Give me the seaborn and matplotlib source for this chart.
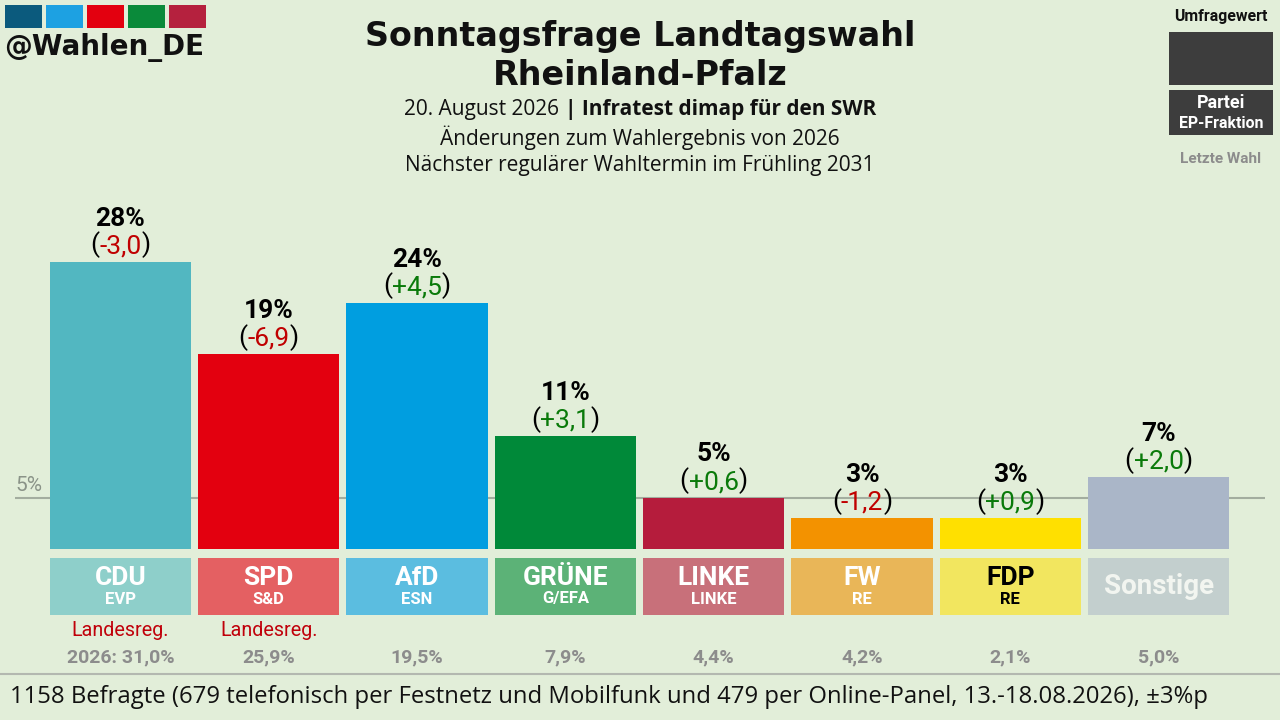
import matplotlib
matplotlib.use("Agg")
import matplotlib.pyplot as plt
import seaborn as sns
import pandas as pd
from matplotlib.patches import Rectangle

# ---------------- data ----------------
parties = ["CDU", "SPD", "AfD", "GRÜNE", "LINKE", "FW", "FDP", "Sonstige"]
fractions = ["EVP", "S&D", "ESN", "G/EFA", "LINKE", "RE", "RE", ""]
values = [28, 19, 24, 11, 5, 3, 3, 7]
changes = ["-3,0", "-6,9", "+4,5", "+3,1", "+0,6", "-1,2", "+0,9", "+2,0"]
last_vote = ["2026: 31,0%", "25,9%", "19,5%", "7,9%", "4,4%", "4,2%", "2,1%", "5,0%"]
government = ["Landesreg.", "Landesreg.", "", "", "", "", "", ""]
bar_colors = ["#52b7c1", "#e3000f", "#009ee0", "#008939", "#b51c3c", "#f39200", "#ffe000", "#aab6c8"]
box_colors = ["#8ecfca", "#e46062", "#5bbde0", "#5cb277", "#c8707a", "#e9b658", "#f2e65f", "#c3cfce"]
box_text_colors = ["white", "white", "white", "white", "white", "white", "black", "#f2f5f0"]
threshold = 5

title_l1 = "Sonntagsfrage Landtagswahl"
title_l2 = "Rheinland-Pfalz"
sub_date = "20. August 2026"
sub_inst = "| Infratest dimap für den SWR"
sub2 = "Änderungen zum Wahlergebnis von 2026"
sub3 = "Nächster regulärer Wahltermin im Frühling 2031"
footer = "1158 Befragte (679 telefonisch per Festnetz und Mobilfunk und 479 per Online-Panel, 13.-18.08.2026), ±3%p"
logo_colors = ["#0b5a7d", "#1da1e2", "#e3000f", "#0a8a3a", "#b5213e"]

BG = "#e2eed9"
W, H = 1280, 720

sns.set_theme(style="white")
plt.rcParams["font.family"] = ["Roboto", "DejaVu Sans"]
plt.rcParams["patch.linewidth"] = 0

fig = plt.figure(figsize=(12.8, 7.2), dpi=100, facecolor=BG)
ax = fig.add_axes([0, 0, 1, 1])
ax.set_facecolor(BG)

# pixel geometry -> data
X0, DX = 120.5, 148.3      # first bar centre, spacing (px)
Y0, DY = 549.0, 10.25      # baseline (px from top), px per percent

def xd(px):
    return (px - X0) / DX

def yd(py):
    return (Y0 - py) / DY

df = pd.DataFrame({"party": parties, "value": values})
sns.barplot(data=df, x="party", y="value", hue="party", palette=bar_colors,
            width=0.953, saturation=1, legend=False, ax=ax, zorder=3,
            linewidth=0, edgecolor="none")

ax.set_xlim(xd(0), xd(W))
ax.set_ylim(yd(H), yd(0))
ax.axis("off")

# threshold line
ax.hlines(threshold, xd(15), xd(1265), color="#a3ad9f", lw=1.5, zorder=1)
ax.text(xd(15), yd(491), f"{threshold}%", ha="left", va="baseline",
        fontsize=15, color="#8a9388", zorder=2)

# label boxes
xs = list(range(len(parties)))
box_top, box_bot = yd(558), yd(615)
ax.bar(xs, [box_top - box_bot] * len(xs), bottom=box_bot, width=0.953,
       color=box_colors, linewidth=0, edgecolor="none", zorder=3)

for i, (p, f) in enumerate(zip(parties, fractions)):
    if f:
        ax.text(i, yd(578), p, ha="center", va="center", fontsize=19,
                fontweight="bold", color=box_text_colors[i], zorder=4)
        ax.text(i, yd(599), f, ha="center", va="center", fontsize=12,
                fontweight="bold", color=box_text_colors[i], zorder=4)
    else:
        ax.text(i, yd(587), p, ha="center", va="center", fontsize=20,
                fontweight="bold", color=box_text_colors[i], zorder=4)

# value labels
for i, (v, c) in enumerate(zip(values, changes)):
    ax.text(i, v + 3.55, f"{v}%", ha="center", va="baseline", fontsize=19,
            fontweight="bold", color="black", zorder=4)
    col = "#c00000" if c.startswith("-") else "#0a7a0a"
    t = ax.text(i, v + 0.85, c, ha="center", va="baseline", fontsize=19,
                color=col, zorder=4)
    ax.annotate("(", xy=(0, 0), xycoords=t, ha="right", va="bottom",
                fontsize=19, color="black", zorder=4)
    ax.annotate(")", xy=(1, 0), xycoords=t, ha="left", va="bottom",
                fontsize=19, color="black", zorder=4)

# government + last election
for i, (g, lv) in enumerate(zip(government, last_vote)):
    if g:
        ax.text(i, yd(631), g, ha="center", va="center", fontsize=14.2,
                color="#c0000a")
    ax.text(i, yd(657), lv, ha="center", va="center", fontsize=14,
            fontweight="bold", color="#8c8c8c")

# footer line + text
ax.hlines(yd(674), xd(0), xd(W), color="#b3b8b0", lw=1.5)
fig.text(10 / W, 1 - 697 / H, footer, ha="left", va="center", fontsize=17.2,
         family=["Open Sans", "DejaVu Sans"], color="#111111")

# title block
fig.text(0.5, 1 - 46 / H, title_l1, ha="center", va="baseline", fontsize=24,
         fontweight="bold", family=["DejaVu Sans"], color="#111111")
fig.text(0.5, 1 - 85 / H, title_l2, ha="center", va="baseline", fontsize=24,
         fontweight="bold", family=["DejaVu Sans"], color="#111111")
SUBFS = 15
t1 = fig.text(0.5, 1 - 109 / H, sub_date + " ", ha="right", va="center",
              fontsize=SUBFS, family=["Open Sans", "DejaVu Sans"], color="#111111")
fig.canvas.draw()
r = fig.canvas.get_renderer()
w_date = t1.get_window_extent(r).width
t2 = fig.text(0.5, 1 - 109 / H, sub_inst, ha="left", va="center",
              fontsize=SUBFS, fontweight="bold", family=["Open Sans", "DejaVu Sans"],
              color="#111111")
w_inst = t2.get_window_extent(r).width
shift = (w_date - w_inst) / 2 / W
t1.set_x(0.5 + shift)
t2.set_x(0.5 + shift)
fig.text(0.5, 1 - 138 / H, sub2, ha="center", va="center", fontsize=SUBFS,
         family=["Open Sans", "DejaVu Sans"], color="#111111")
fig.text(0.5, 1 - 166 / H, sub3, ha="center", va="center", fontsize=SUBFS,
         family=["Open Sans", "DejaVu Sans"], color="#111111")

# logo
logo_x = [5, 46, 87, 128, 169]
for lx, lc in zip(logo_x, logo_colors):
    fig.patches.append(Rectangle((lx / W, 1 - 28 / H), 37 / W, 23 / H,
                                 transform=fig.transFigure, color=lc, lw=0))
fig.text(4 / W, 1 - 47 / H, "@Wahlen_DE", ha="left", va="center", fontsize=20,
         fontweight="bold", family=["DejaVu Sans"], color="#111111")

# legend (top right)
fig.text(1221 / W, 1 - 17 / H, "Umfragewert", ha="center", va="center",
         fontsize=11.4, fontweight="bold", color="#111111")
fig.patches.append(Rectangle((1169 / W, 1 - 85 / H), 104 / W, 53 / H,
                             transform=fig.transFigure, color="#3d3d3d", lw=0))
fig.patches.append(Rectangle((1169 / W, 1 - 135 / H), 104 / W, 45 / H,
                             transform=fig.transFigure, color="#3d3d3d", lw=0))
fig.text(1221 / W, 1 - 103 / H, "Partei", ha="center", va="center",
         fontsize=13, fontweight="bold", color="white")
fig.text(1221 / W, 1 - 124 / H, "EP-Fraktion", ha="center", va="center",
         fontsize=11.4, fontweight="bold", color="white")
fig.text(1221 / W, 1 - 159 / H, "Letzte Wahl", ha="center", va="center",
         fontsize=11, fontweight="bold", color="#8c8c8c")

fig.savefig("out.png", dpi=100, facecolor=BG)
